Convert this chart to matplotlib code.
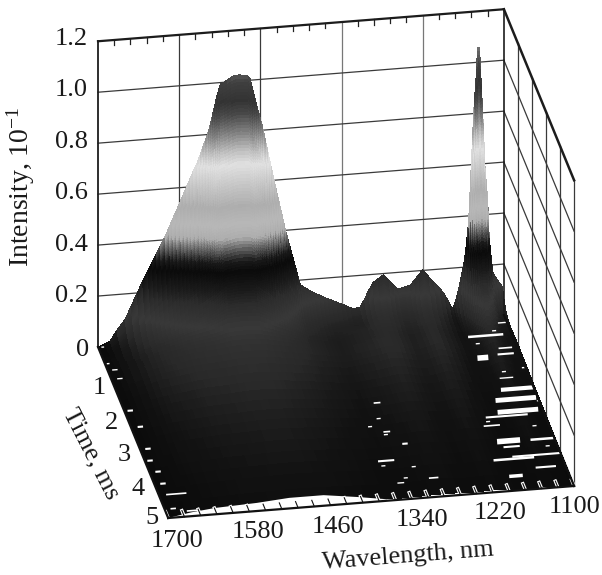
import matplotlib
matplotlib.use('Agg')
import matplotlib.pyplot as plt
from matplotlib.colors import LinearSegmentedColormap
from mpl_toolkits.mplot3d import proj3d
from mpl_toolkits.mplot3d.art3d import Poly3DCollection
import numpy as np

plt.rcParams['font.family'] = 'Liberation Serif'
plt.rcParams['mathtext.fontset'] = 'custom'
plt.rcParams['mathtext.rm'] = 'Liberation Serif'
plt.rcParams['mathtext.default'] = 'rm'

W_PX, H_PX = 602, 575

# spectrum at t = 0
wavelength = [1700, 1690, 1682, 1672, 1660, 1651, 1642, 1634, 1626, 1620, 1614, 1608, 1601, 1595, 1590, 1585,
              1579, 1574, 1569, 1564, 1559, 1553, 1549, 1545, 1541, 1537, 1534, 1531, 1528, 1525, 1522, 1519,
              1514, 1509, 1503, 1497, 1491, 1485, 1479, 1475, 1472, 1469, 1466, 1463, 1460, 1457, 1453, 1449,
              1445, 1441, 1437, 1433, 1429, 1426, 1423, 1420, 1417, 1414, 1411, 1408, 1405, 1401, 1396, 1391,
              1386, 1381, 1374, 1368, 1362, 1356, 1349, 1342, 1335, 1328, 1322, 1312, 1306, 1300, 1294, 1286,
              1278, 1271, 1264, 1257, 1247, 1238, 1232, 1226, 1220, 1212, 1204, 1196, 1189, 1182, 1176, 1173,
              1171, 1168, 1164, 1161, 1159, 1157, 1156, 1154, 1152, 1150, 1148, 1146, 1144, 1143, 1141, 1140,
              1139, 1136, 1135, 1134, 1133, 1132, 1131, 1130, 1128, 1126, 1124, 1122, 1120, 1118, 1116, 1112,
              1107, 1102, 1100]
spectrum = [0.0, .01, .02, .06, .10, .15, .20, .245, .287, .317, .347, .378, .412, .447, .477, .507,
            .541, .572, .602, .632, .662, .694, .723, .752, .781, .81, .84, .872, .905, .94, .968, .994,
            1.0, 1.008, 1.018, 1.024, 1.024, 1.022, 1.02, 1.004, .97, .938, .906, .875, .845, .815, .765, .715,
            .665, .615, .568, .52, .473, .438, .402, .372, .342, .312, .282, .252, .222, .181, .172, .163,
            .154, .146, .137, .128, .12, .113, .104, .096, .087, .078, .07, .076, .106, .137, .167, .181,
            .195, .175, .155, .135, .14, .147, .165, .184, .202, .176, .15, .128, .105, .07, .039, .056,
            .074, .105, .151, .19, .217, .256, .276, .33, .385, .498, .612, .726, .836, .87, .946, 1.0,
            1.059, 1.059, 1.0, .944, .89, .835, .78, .723, .59, .524, .458, .328, .26, .21, .168, .15,
            .13, .111, .01]

# decay of the spectrum with time
time_ms = [0, .003, .005, .008, .01, .015, .02, .022, .025, .028, .03, .035, .04, .042, .045, .05, .055, .06, .065, .068,
           .07, .075, .08, .085, .09, .095, .1, .105, .11, .115, .12, .125, .13, .135, .14, .145, .15, .155, .16, .168,
           .175, .182, .19, .195, .2, .208, .215, .222, .23, .238, .245, .252, .26, .27, .28, .29, .3,
           .31, .32, .33, .34, .35, .36, .37, .38, .395, .41, .425, .44, .455, .47, .485, .5, .52, .54, .56, .58,
           .62, .67, .72, .78, .85, .95, 1.1, 1.25, 1.4, 1.6, 1.8, 2.0, 2.25, 2.5, 2.75, 3.0, 3.3, 3.6, 3.9, 4.2, 4.6, 5.0]
decay = [1.0, .9875, .975, .9625, .95, .9375, .925, .9125, .9, .8875, .875, .8625, .85, .8375, .825, .8125, .8, .7875, .775, .7625,
         .75, .7375, .725, .7125, .7, .6875, .675, .6625, .65, .6375, .625, .6125, .6, .5875, .575, .5625, .55, .5375, .525, .5125,
         .5, .4875, .475, .4625, .45, .4375, .425, .4125, .4, .3875, .375, .3625, .35, .3375, .325, .3125, .3,
         .29, .28, .27, .26, .25, .24, .23, .22, .21, .2, .19, .18, .17, .16, .15, .14, .13, .12, .11, .1,
         .085, .07, .06, .05, .04, .03, .026, .024, .022, .02, .018, .016, .014, .012, .011, .01, .009, .008, .007, .006, .005, .004]

# slow background under the peaks
floor_wl = [1100, 1180, 1220, 1250, 1290, 1360, 1420, 1500, 1580, 1640, 1700]
floor_amp = [0.3, 0.35, 0.9, 0.6, 1.0, 0.55, 0.85, 1.0, 0.95, 0.65, 0.03]
floor_t = [0, 0.5, 1, 2, 3, 4, 5]
floor_lvl = [0, 0.05, 0.065, 0.042, 0.028, 0.018, 0.01]

# z value -> grey
band_z = [0, .02, .06, .12, .19, .24, .30, .335, .385, .42, .47, .535, .60, .69, .74, .81, .88, .93, 1.0, 1.06]
band_grey = [.04, .07, .16, .22, .17, .10, .04, .10, .42, .68, .72, .68, .76, .88, .75, .50, .28, .20, .25, .45]

# holes in the surface: wavelength from, wavelength to, time, line width
holes_wl1 = [1165, 1164, 1133, 1149, 1163, 1167, 1187, 1185, 1136, 1172, 1201, 1145, 1188, 1304, 1367, 1342,
             1322, 1339, 1352, 1114, 1128, 1144, 1195, 1179, 1696, 1698, 1694, 1692, 1696, 1691, 1693, 1697,
             1692, 1692, 1690, 1692, 1670,
             1127, 1158, 1137, 1106, 1104, 1189, 1125, 1118, 1361, 1343, 1322, 1365, 1340, 1344]
holes_wl2 = [1113, 1148, 1109, 1101, 1103, 1107, 1125, 1151, 1102, 1100, 1141, 1115, 1168, 1290, 1343, 1332,
             1314, 1329, 1342, 1100, 1108, 1124, 1171, 1155, 1692, 1694, 1686, 1684, 1688, 1683, 1685, 1689,
             1684, 1684, 1660, 1684, 1652,
             1121, 1152, 1131, 1100, 1100, 1183, 1119, 1112, 1355, 1337, 1316, 1359, 1334, 1338]
holes_t = [.58, 1.2, 1.14, 2.15, 2.44, 2.78, 2.9, 3.61, 3.63, 4.07, 4.13, 4.43, 4.62, 4.49, 3.9, 3.08,
           3.46, 2.24, 4.56, .25, .97, 1.82, 3.14, 3.78, .05, .53, .72, .98, 1.91, 2.39, 3.03, 3.37,
           3.7, 4.05, 4.37, 4.78, 4.88,
           .46, .79, 1.64, 1.57, 2.54, 3.02, 3.24, 3.84, 2.9, 3.16, 4.13, 4.04, 4.43, 2.69]
holes_lw = [1.8, 4, 1.5, 3, 3.5, 3.5, 1.5, 4, 1.8, 1.5, 1.8, 1.5, 2.5, 1.2, 1.5, 1.2,
            1.5, 1.2, 1, 1, 1.2, 1, 1.2, 1.5, 1, 1, 1, 1, 1.5, 1.5, 1.5, 1.5,
            1.5, 1.5, 1.2, 1.2, 1.2,
            1, 1, 1, 1, 1, 1, 1, 1, 1, 1, 1, 1, 1, 1]

# white strip left at the front edge
gap_wl = [1700, 1663, 1627, 1564, 1515, 1464, 1416, 1378, 1360]
gap_t = [0, .11, .18, .23, .30, .30, .17, .05, 0]

wl_ticks = [1700, 1580, 1460, 1340, 1220, 1100]
wl_minor = list(range(1700, 1099, -24))
t_ticks = [0, 1, 2, 3, 4, 5]
z_ticks = [0, 0.2, 0.4, 0.6, 0.8, 1.0, 1.2]
z_labels = ['0', '0.2', '0.4', '0.6', '0.8', '1.0', '1.2']

wl = np.array(wavelength, dtype=float)
t = np.array(time_ms)
bg = np.interp(wl, floor_wl, floor_amp)
Z = np.outer(decay, spectrum) + np.outer(np.interp(t, floor_t, floor_lvl), bg)
WW, TT = np.meshgrid(wl, t)

zn = np.array(band_z) / band_z[-1]
cmap = LinearSegmentedColormap.from_list('bands', [(a, (g, g, g)) for a, g in zip(zn, band_grey)], N=512)
Zc = (Z[:-1, :-1] + Z[1:, :-1] + Z[:-1, 1:] + Z[1:, 1:]) / 4
fc = cmap(np.clip(Zc / band_z[-1], 0, 1))

fig = plt.figure(figsize=(W_PX / 100, H_PX / 100), dpi=100)
ax = fig.add_axes([0, 0, 1, 1], projection='3d', proj_type='ortho', computed_zorder=False)
ax.view_init(elev=26, azim=-100.2)
ax.set_box_aspect((411, 395, 339))
ax.set_xlim(1700, 1100)
ax.set_ylim(5, 0)
ax.set_zlim(0, 1.2)
ax.set_axis_off()

# walls
GRID = '#3a3a3a'
for w in wl_ticks[1:-1]:
    ax.plot([w, w], [0, 0], [0, 1.2], color='#777777' if w in (1340, 1220) else GRID, lw=0.9, zorder=1)
for z in z_ticks[1:-1]:
    ax.plot([1700, 1100], [0, 0], [z, z], color=GRID, lw=0.9, zorder=1)
    ax.plot([1100, 1100], [0, 5], [z, z], color=GRID, lw=0.9, zorder=1)
for tt in t_ticks[1:]:
    ax.plot([1100, 1100], [tt, tt], [0, 1.2], color=GRID, lw=0.9, zorder=1)
for w in wl_minor:
    if w not in wl_ticks:
        ax.plot([w, w], [0, 0], [1.2, 1.18], color='#222222', lw=0.9, zorder=1)

ax.plot_surface(WW, TT, Z, facecolors=fc, rstride=1, cstride=1, shade=False,
                linewidth=0.3, edgecolor='none', antialiased=False, zorder=2)

# front strip and holes
strip = list(zip(gap_wl, [5] * len(gap_wl), [0] * len(gap_wl))) + \
    [(a, 5 - b, 0) for a, b in zip(gap_wl[::-1], gap_t[::-1])]
ax.add_collection3d(Poly3DCollection([strip], facecolors='white', edgecolors='none', zorder=3))
for a, b, c, d in zip(holes_wl1, holes_wl2, holes_t, holes_lw):
    ax.plot([a, b], [c, c], [0.005, 0.005], color='white', lw=d, solid_capstyle='butt', zorder=3)

# front ticks
for w in wl_minor:
    ax.plot([w, w], [5, 4.82], [0, 0], color='white', lw=2.4, zorder=4)
    ax.plot([w, w], [5, 4.82], [0, 0], color='#111111', lw=0.8, zorder=5)

# box edges
EDGE = '#1c1c1c'
ax.plot([1700, 1100], [0, 0], [1.2, 1.2], color=EDGE, lw=1.6, zorder=6)
ax.plot([1100, 1100], [0, 5], [1.2, 1.2], color=EDGE, lw=1.8, zorder=6)
ax.plot([1700, 1700], [0, 0], [0, 1.2], color=EDGE, lw=1.3, zorder=6)
ax.plot([1100, 1100], [0, 0], [0, 1.2], color=EDGE, lw=1.2, zorder=6)
ax.plot([1700, 1700], [0, 5], [0, 0], color='#111111', lw=1.6, zorder=6)
ax.plot([1700, 1100], [5, 5], [0, 0], color='#111111', lw=1.6, zorder=6)
ax.plot([1100, 1100], [0, 5], [0, 0], color='#111111', lw=1.6, zorder=6)


def corner_px(x, y, z):
    # pixel position of a data point, y counted from the top
    px, py, _ = proj3d.proj_transform(x, y, z, ax.get_proj())
    dx, dy = ax.transData.transform((px, py))
    return np.array([dx, H_PX - dy])


# fit the box onto the corners of the reference
target_a = np.array([98.0, 347.0])
target_c = np.array([573.5, 488.0])
for _ in range(3):
    fig.canvas.draw()
    a = corner_px(1700, 0, 0)
    c = corner_px(1100, 5, 0)
    f = np.linalg.norm(target_c - target_a) / np.linalg.norm(c - a)
    pos = ax.get_position()
    cx = (pos.x0 + pos.x1) / 2 * W_PX
    cy = (1 - (pos.y0 + pos.y1) / 2) * H_PX
    new_a = np.array([cx, cy]) + (a - [cx, cy]) * f
    shift = target_a - new_a
    cx2, cy2 = cx + shift[0], cy + shift[1]
    w2, h2 = pos.width * f, pos.height * f
    ax.set_position([cx2 / W_PX - w2 / 2, 1 - cy2 / H_PX - h2 / 2, w2, h2])


def label(x, y, s, **kw):
    kw.setdefault('fontsize', 19)
    kw.setdefault('ha', 'center')
    kw.setdefault('va', 'center')
    fig.text(x / W_PX, 1 - y / H_PX, s, color='#1a1a1a', **kw)


for s, y in zip(z_labels[1:], [296, 245, 193, 142, 90, 39]):
    label(88, y, s, ha='right')
for s, x, y in zip(t_ticks, [83, 99, 112, 124, 138, 152], [350, 388, 423, 455, 489, 518]):
    label(x, y, str(s))
for s, x, y in zip(wl_ticks, [177, 258, 338, 422, 500, 575], [541, 532, 527, 520, 513, 507]):
    label(x, y, str(s))
label(408, 556, 'Wavelength, nm', rotation=4.5, rotation_mode='anchor')
label(91, 454, 'Time, ms', rotation=-63, rotation_mode='anchor')
label(21, 187, 'Intensity, 10$^{-1}$', fontsize=20, rotation=90, rotation_mode='anchor')

fig.savefig('out.png', dpi=100)
